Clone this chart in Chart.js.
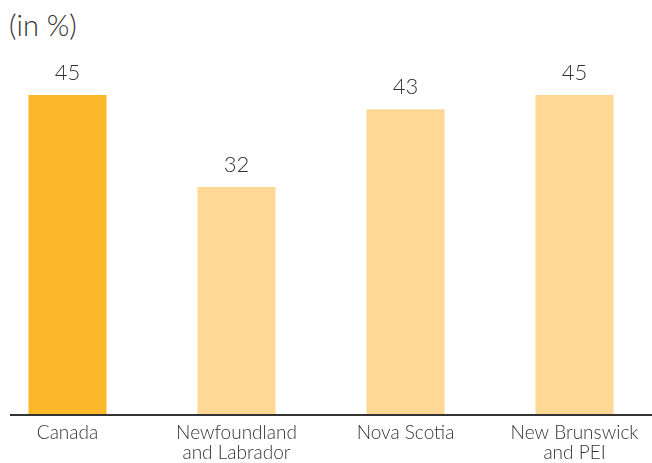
<!DOCTYPE html>
<html>
<head>
<meta charset="utf-8">
<script src="https://cdn.jsdelivr.net/npm/chart.js@4"></script>
<style>
  html, body { margin: 0; padding: 0; background: #fff; overflow: hidden; }
  #wrap { position: relative; width: 652px; height: 463px; overflow: hidden; }
  #unit { position: absolute; left: 9px; top: 7px; font: 300 29px Lato, "Open Sans", sans-serif; color: #333; }
  #box { position: absolute; left: -17px; top: 0; width: 676px; height: 463px; }
</style>
</head>
<body>
<div id="wrap">
  <div id="unit">(in %)</div>
  <div id="box"><canvas id="chart"></canvas></div>
</div>
<script>
// Share data (in %)
const categories = ['Canada', ['Newfoundland', 'and Labrador'], 'Nova Scotia', ['New Brunswick', 'and PEI']];
const shares = [45, 32, 43, 45];
const barColors = ['#fbb829', '#fed894', '#fed894', '#fed894'];

// value labels above the bars
const valueLabels = {
    id: 'valueLabels',
    afterDatasetsDraw(chart) {
        const ctx = chart.ctx;
        const meta = chart.getDatasetMeta(0);
        ctx.save();
        ctx.font = '300 22px Lato, "Open Sans", sans-serif';
        ctx.fillStyle = '#333';
        ctx.textAlign = 'center';
        ctx.textBaseline = 'alphabetic';
        meta.data.forEach((bar, i) => {
            ctx.fillText(String(shares[i]), bar.x, bar.y - 15);
        });
        ctx.restore();
    }
};

// base line, starts a bit in from the left edge
const baseLine = {
    id: 'baseLine',
    afterDatasetsDraw(chart) {
        const ctx = chart.ctx;
        const y = chart.chartArea.bottom + 1;
        ctx.save();
        ctx.strokeStyle = '#333';
        ctx.lineWidth = 2;
        ctx.beginPath();
        ctx.moveTo(27, y);
        ctx.lineTo(chart.width, y);
        ctx.stroke();
        ctx.restore();
    }
};

new Chart(document.getElementById('chart'), {
    type: 'bar',
    data: {
        labels: categories,
        datasets: [{
            data: shares,
            backgroundColor: barColors,
            barPercentage: 0.462,
            categoryPercentage: 1
        }]
    },
    options: {
        responsive: true,
        maintainAspectRatio: false,
        animation: false,
        layout: { padding: { top: 59.5, left: 0, right: 0, bottom: 0 } },
        plugins: { legend: { display: false }, tooltip: { enabled: false } },
        scales: {
            x: {
                grid: { display: false, drawTicks: false },
                border: { display: false },
                ticks: {
                    color: '#333',
                    padding: 8,
                    maxRotation: 0,
                    font: { family: 'Lato, "Open Sans", sans-serif', size: 19, weight: 300, lineHeight: 1.1 }
                },
                afterFit(scale) { scale.height = 49; }
            },
            y: {
                display: false,
                min: 0,
                max: 50
            }
        }
    },
    plugins: [valueLabels, baseLine]
});
</script>
</body>
</html>
